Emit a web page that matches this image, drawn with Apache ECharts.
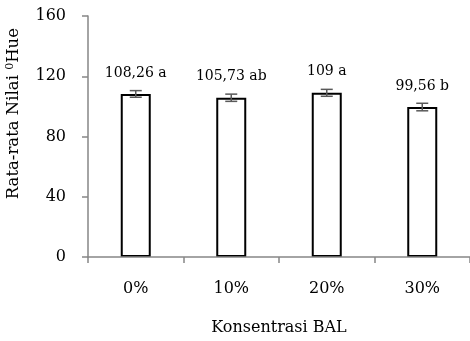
<!DOCTYPE html>
<html>
<head>
<meta charset="utf-8">
<script src="https://cdn.jsdelivr.net/npm/echarts@6/dist/echarts.min.js"></script>
<style>
html,body{margin:0;padding:0;background:#fff;}
#c{width:470px;height:341px;}
</style>
</head>
<body>
<div id="c"></div>
<script>
var categories = ['0%', '10%', '20%', '30%'];
var values = [108.26, 105.73, 109, 99.56];
var errors = [2.2, 2.4, 2.3, 2.5];
var labels = ['108,26 a', '105,73 ab', '109 a', '99,56 b'];
var yTicks = [0, 40, 80, 120, 160];

var FONT = 'DejaVu Serif';
var AXIS = '#868686';

var chart = echarts.init(document.getElementById('c'), null, {renderer: 'canvas'});

var errData = values.map(function (v, i) { return [i, v - errors[i], v + errors[i]]; });

chart.setOption({
  animation: false,
  backgroundColor: '#fff',
  grid: {left: 88, top: 16, width: 384, height: 244},
  xAxis: {
    type: 'category',
    data: categories,
    z: 5,
    name: 'Konsentrasi BAL',
    nameLocation: 'middle',
    nameGap: 63,
    nameTextStyle: {fontFamily: FONT, fontSize: 16, color: '#000'},
    axisLine: {lineStyle: {color: AXIS, width: 1.5}},
    axisTick: {show: true, length: 6, lineStyle: {color: AXIS, width: 1.5}},
    axisLabel: {fontFamily: FONT, fontSize: 16, color: '#000', margin: 24}
  },
  yAxis: {
    type: 'value',
    min: yTicks[0],
    max: yTicks[yTicks.length - 1],
    interval: 40,
    axisLine: {show: true, lineStyle: {color: AXIS, width: 1.5}},
    axisTick: {show: true, length: 6, lineStyle: {color: AXIS, width: 1.5}},
    splitLine: {show: false},
    axisLabel: {fontFamily: FONT, fontSize: 16, color: '#000', margin: 22}
  },
  graphic: [{
    type: 'text',
    left: 5,
    top: 28,
    rotation: Math.PI / 2,
    style: {
      text: '{n|Rata-rata Nilai }{s|0}{n|Hue}',
      rich: {
        n: {fontFamily: FONT, fontSize: 16.5, fill: '#000'},
        s: {fontFamily: FONT, fontSize: 11, fill: '#000', verticalAlign: 'top', padding: [0, 0, 6, 0]}
      }
    }
  }],
  series: [{
    type: 'bar',
    data: values,
    barWidth: 30,
    itemStyle: {color: '#fff', borderColor: '#000', borderWidth: 2},
    label: {
      show: true,
      position: 'top',
      distance: 14,
      fontFamily: FONT,
      fontSize: 14,
      color: '#000',
      formatter: function (p) { return labels[p.dataIndex]; }
    },
    z: 2
  }, {
    type: 'custom',
    data: errData,
    z: 3,
    renderItem: function (params, api) {
      var x = api.value(0);
      var lo = api.coord([x, api.value(1)]);
      var hi = api.coord([x, api.value(2)]);
      var hw = 6;
      var st = {stroke: '#595959', lineWidth: 1.5};
      return {
        type: 'group',
        children: [
          {type: 'line', shape: {x1: lo[0], y1: lo[1], x2: hi[0], y2: hi[1]}, style: st},
          {type: 'line', shape: {x1: lo[0] - hw, y1: lo[1], x2: lo[0] + hw, y2: lo[1]}, style: st},
          {type: 'line', shape: {x1: hi[0] - hw, y1: hi[1], x2: hi[0] + hw, y2: hi[1]}, style: st}
        ]
      };
    }
  }]
});
</script>
</body>
</html>
